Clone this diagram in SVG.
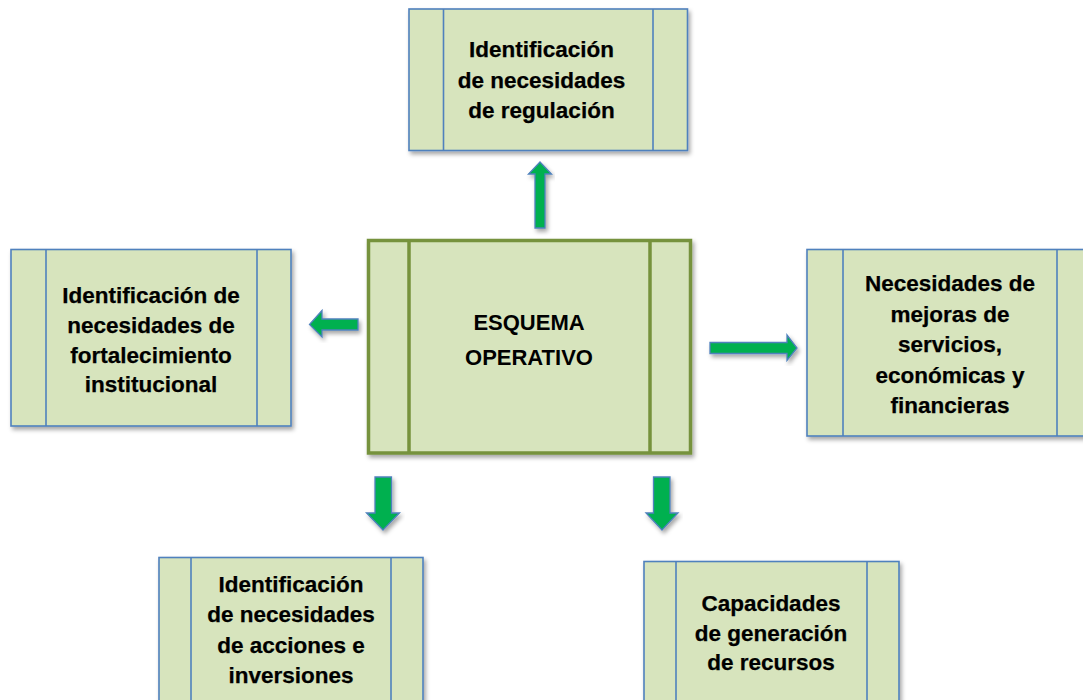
<svg xmlns="http://www.w3.org/2000/svg" width="1083" height="700" viewBox="0 0 1083 700">
  <defs>
    <filter id="sh" x="-10%" y="-10%" width="125%" height="130%">
      <feDropShadow dx="2" dy="3" stdDeviation="2" flood-color="#000" flood-opacity="0.35"/>
    </filter>
    <style>
      .box{fill:#D7E4BD;stroke:#4F81BD;stroke-width:1.6;filter:url(#sh)}
      .inner{stroke:#4F81BD;stroke-width:1.6;fill:none}
      .cbox{fill:#D7E4BD;stroke:#76923C;stroke-width:3.5;filter:url(#sh)}
      .cinner{stroke:#76923C;stroke-width:3.5;fill:none}
      .t{font-family:"Liberation Sans",Arial,sans-serif;font-weight:bold;font-size:22.5px;fill:#000;stroke:#000;stroke-width:0.25;text-anchor:middle}
      .ct{font-family:"Liberation Sans",Arial,sans-serif;font-weight:bold;font-size:22px;fill:#000;text-anchor:middle}
      .arr{fill:#00B050;stroke:#4F81BD;stroke-width:1.3;stroke-linejoin:miter;filter:url(#sh)}
    </style>
  </defs>
  <rect width="1083" height="700" fill="#fff"/>

  <g id="connectors">
    <polygon class="arr" points="535,228 545,228 545,174 551.5,174 540,162 528.5,174 535,174"/>
    <polygon class="arr" points="358,319 322,319 322,310.5 309.5,324.5 322,337 322,330 358,330"/>
    <polygon class="arr" points="710,342.5 787,342.5 787,335 797,348 787,360.5 787,353.5 710,353.5"/>
    <polygon class="arr" points="375,477 391.5,477 391.5,513 399.5,513 383,530 366.5,513 375,513"/>
    <polygon class="arr" points="653.5,477 670,477 670,513 678,513 662,530 646,513 653.5,513"/>
  </g>

  <g id="node-center">
    <rect class="cbox" x="368.5" y="240.5" width="322" height="212.5"/>
    <line class="cinner" x1="409" y1="240.5" x2="409" y2="453"/>
    <line class="cinner" x1="650" y1="240.5" x2="650" y2="453"/>
    <text class="ct" x="529" y="330">ESQUEMA</text>
    <text class="ct" x="529" y="365">OPERATIVO</text>
  </g>

  <g id="node-top">
    <rect class="box" x="409" y="9" width="278.5" height="141.5"/>
    <line class="inner" x1="443.5" y1="9" x2="443.5" y2="150.5"/>
    <line class="inner" x1="653" y1="9" x2="653" y2="150.5"/>
    <text class="t" x="541.5" y="57">Identificación</text>
    <text class="t" x="541.5" y="87.5">de necesidades</text>
    <text class="t" x="541.5" y="117.5">de regulación</text>
  </g>

  <g id="node-left">
    <rect class="box" x="11" y="249.5" width="280" height="176.5"/>
    <line class="inner" x1="46" y1="249.5" x2="46" y2="426"/>
    <line class="inner" x1="257" y1="249.5" x2="257" y2="426"/>
    <text class="t" x="151" y="303">Identificación de</text>
    <text class="t" x="151" y="333">necesidades de</text>
    <text class="t" x="151" y="363">fortalecimiento</text>
    <text class="t" x="151" y="392">institucional</text>
  </g>

  <g id="node-right">
    <rect class="box" x="807" y="249.5" width="285" height="186.5"/>
    <line class="inner" x1="843" y1="249.5" x2="843" y2="436"/>
    <line class="inner" x1="1057" y1="249.5" x2="1057" y2="436"/>
    <text class="t" x="950" y="291">Necesidades de</text>
    <text class="t" x="950" y="322">mejoras de</text>
    <text class="t" x="950" y="352">servicios,</text>
    <text class="t" x="950" y="383">económicas y</text>
    <text class="t" x="950" y="413">financieras</text>
  </g>

  <g id="node-bottom-left">
    <rect class="box" x="159" y="557.5" width="264" height="160"/>
    <line class="inner" x1="191" y1="557.5" x2="191" y2="717"/>
    <line class="inner" x1="391" y1="557.5" x2="391" y2="717"/>
    <text class="t" x="291" y="592">Identificación</text>
    <text class="t" x="291" y="622">de necesidades</text>
    <text class="t" x="291" y="653">de acciones e</text>
    <text class="t" x="291" y="683">inversiones</text>
  </g>

  <g id="node-bottom-right">
    <rect class="box" x="644" y="561.5" width="255" height="160"/>
    <line class="inner" x1="676" y1="561.5" x2="676" y2="721"/>
    <line class="inner" x1="867" y1="561.5" x2="867" y2="721"/>
    <text class="t" x="771" y="611">Capacidades</text>
    <text class="t" x="771" y="641">de generación</text>
    <text class="t" x="771" y="670">de recursos</text>
  </g>
</svg>
